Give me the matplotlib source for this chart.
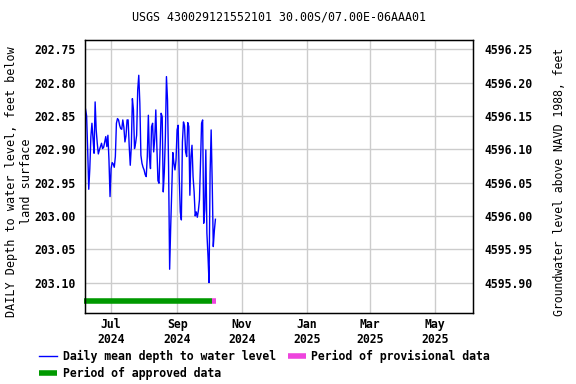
import matplotlib
matplotlib.use('Agg')
from matplotlib import pyplot as plt
import matplotlib.dates as mdates
import numpy as np
import pandas as pd

# Daily mean depth to water level, feet below land surface (from 2024-06-07)
start_day = '2024-06-07'
depth = [202.840, 202.850, 202.901, 202.960, 202.929, 202.881, 202.861, 202.884, 202.906, 202.829,
         202.871, 202.891, 202.907, 202.901, 202.896, 202.891, 202.899, 202.897, 202.889, 202.881,
         202.896, 202.879, 202.916, 202.971, 202.929, 202.920, 202.922, 202.927, 202.911, 202.861,
         202.854, 202.856, 202.864, 202.869, 202.870, 202.856, 202.867, 202.889, 202.880, 202.856,
         202.856, 202.895, 202.924, 202.896, 202.824, 202.841, 202.899, 202.891, 202.879, 202.811,
         202.789, 202.831, 202.909, 202.921, 202.927, 202.931, 202.938, 202.941, 202.911, 202.849,
         202.911, 202.929, 202.866, 202.861, 202.904, 202.884, 202.841, 202.896, 202.947, 202.951,
         202.901, 202.846, 202.851, 202.964, 202.934, 202.881, 202.791, 202.826, 202.926, 203.080,
         203.016, 202.961, 202.905, 202.921, 202.931, 202.916, 202.871, 202.864, 202.941, 202.994,
         203.006, 202.889, 202.859, 202.865, 202.904, 202.911, 202.860, 202.866, 202.969, 202.911,
         202.894, 202.941, 202.964, 203.000, 202.994, 203.002, 202.992, 202.976, 202.920, 202.861,
         202.856, 203.011, 202.991, 202.901, 203.026, 203.059, 203.100, 202.936, 202.871, 202.951,
         203.046, 203.022, 203.005]
dates = pd.date_range(start_day, periods=len(depth), freq='D')

# Approval periods
approved = ['2024-06-06', '2024-10-04']
provisional = ['2024-10-04', '2024-10-08']
bar_level = 203.128

datum = 4799.0  # land surface elevation, NAVD 1988
xlim = ['2024-06-06 12:00', '2025-06-06']
ylim = [202.736, 203.145]
y_ticks = [202.75, 202.80, 202.85, 202.90, 202.95, 203.00, 203.05, 203.10]
right_ticks = [4596.25, 4596.20, 4596.15, 4596.10, 4596.05, 4596.00, 4595.95, 4595.90]

plt.rcParams['font.family'] = 'DejaVu Sans Mono'
plt.rcParams['font.weight'] = 'bold'
plt.rcParams['font.size'] = 8.3

fig = plt.figure(figsize=(5.76, 3.84), dpi=100)
ax = fig.add_axes([0.1476, 0.186, 0.6736, 0.710])

ax.plot(dates, depth, color='#0000ff', lw=1.0, label='Daily mean depth to water level')
ax.plot(pd.to_datetime(approved), [bar_level] * 2, color='#009900', lw=4,
        solid_capstyle='butt', clip_on=False, label='Period of approved data')
ax.plot(pd.to_datetime(provisional), [bar_level] * 2, color='#ee44dd', lw=4,
        solid_capstyle='butt', clip_on=False, label='Period of provisional data')

ax.set_xlim(pd.to_datetime(xlim[0]), pd.to_datetime(xlim[1]))
ax.set_ylim(ylim[1], ylim[0])
ax.set_yticks(y_ticks)
ax.set_yticklabels([f'{v:.2f}' for v in y_ticks])
ax.xaxis.set_major_locator(mdates.MonthLocator(bymonth=[1, 3, 5, 7, 9, 11]))
ax.xaxis.set_major_formatter(mdates.DateFormatter('%b\n%Y'))
ax.grid(color='#cccccc', lw=1.0)
ax.set_axisbelow(True)
ax.tick_params(axis='x', length=0, pad=4)
ax.tick_params(axis='y', length=0, pad=7)
for s in ax.spines.values():
    s.set_linewidth(1.0)

ax.set_ylabel('DAILY Depth to water level, feet below\nland surface', fontsize=8.5)
ax.yaxis.set_label_coords(-0.135, 0.48)

ax2 = ax.twinx()
ax2.set_ylim(datum - ylim[1], datum - ylim[0])
ax2.set_yticks(right_ticks)
ax2.set_yticklabels([f'{v:.2f}' for v in right_ticks])
ax2.tick_params(axis='y', length=0, pad=8)
ax2.set_ylabel('Groundwater level above NAVD 1988, feet', labelpad=10)
ax2.yaxis.set_label_coords(1.205, 0.48)

ax.set_title('USGS 430029121552101 30.00S/07.00E-06AAA01', pad=14, fontsize=8.35)

h, l = ax.get_legend_handles_labels()
fig.legend(h, l, ncol=2, loc='upper left', bbox_to_anchor=(0.0585, 0.105),
           frameon=False, handlelength=1.5, handletextpad=0.5, columnspacing=1.1,
           borderpad=0, labelspacing=0.35)

fig.savefig('out.png', dpi=100)
